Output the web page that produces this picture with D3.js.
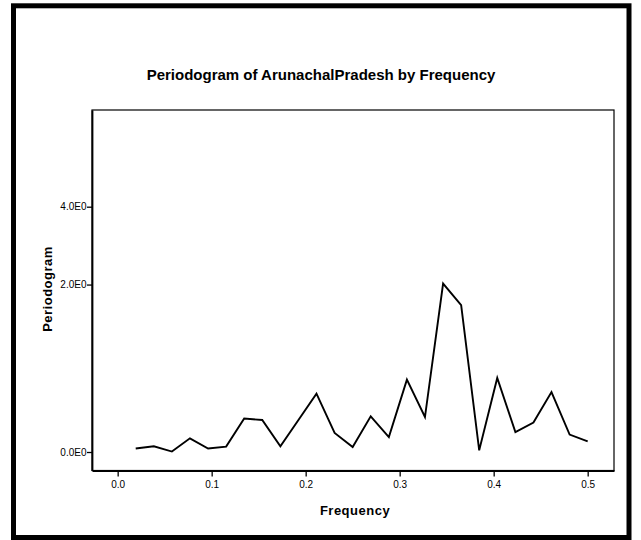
<!DOCTYPE html>
<html>
<head>
<meta charset="utf-8">
<script src="https://cdn.jsdelivr.net/npm/d3@7"></script>
<style>
	body { margin: 0; background: #ffffff; }
	text { font-family: "Liberation Sans", Arial, sans-serif; }
</style>
</head>
<body>
<svg id="chart" width="641" height="540"></svg>
<script>
// periodogram values
var frequency = [0.0192, 0.0385, 0.0577, 0.0769, 0.0962, 0.1154, 0.1346, 0.1538, 0.1731,
	0.1923, 0.2115, 0.2308, 0.2500, 0.2692, 0.2885, 0.3077, 0.3269, 0.3462, 0.3654,
	0.3846, 0.4038, 0.4231, 0.4423, 0.4615, 0.4808, 0.5000];
var periodogram = [0.023, 0.038, 0.003, 0.094, 0.023, 0.036, 0.245, 0.234, 0.038,
	0.234, 0.467, 0.133, 0.033, 0.264, 0.103, 0.608, 0.258, 2.02, 1.62,
	0.011, 0.625, 0.140, 0.213, 0.482, 0.121, 0.073];
var xTicks = [0.0, 0.1, 0.2, 0.3, 0.4, 0.5];
var yTicks = [0, 2, 4];

var svg = d3.select("#chart");

var plotL = 92, plotR = 614, plotT = 110, plotB = 470.5;

// outer frame
svg.append("rect")
	.attr("x", 13.5)
	.attr("y", 5.8)
	.attr("width", 615.5)
	.attr("height", 531.7)
	.attr("fill", "white")
	.attr("stroke", "black")
	.attr("stroke-width", 5);

svg.append("text")
	.attr("x", 321)
	.attr("y", 80)
	.attr("text-anchor", "middle")
	.attr("font-size", "15px")
	.attr("font-weight", "bold")
	.text("Periodogram of ArunachalPradesh by Frequency");

var x = d3.scaleLinear()
	.domain([-0.0273, 0.528])
	.range([plotL, plotR]);

// the y axis of the scan is log(1 + p)
var y = d3.scaleSymlog()
	.constant(1)
	.domain([-0.129, 8.43])
	.range([plotB, plotT]);

// plot box
svg.append("rect")
	.attr("x", plotL)
	.attr("y", plotT)
	.attr("width", plotR - plotL)
	.attr("height", plotB - plotT)
	.attr("fill", "none")
	.attr("stroke", "black")
	.attr("stroke-width", 1.2);

var yAxis = svg.append("g")
	.attr("transform", "translate(" + plotL + ",0)")
	.call(d3.axisLeft(y).tickValues(yTicks).tickSize(5).tickSizeOuter(0)
		.tickFormat(function(d) { return d.toFixed(1) + "E0"; }));

var xAxis = svg.append("g")
	.attr("transform", "translate(0," + plotB + ")")
	.call(d3.axisBottom(x).tickValues(xTicks).tickSize(6).tickSizeOuter(0)
		.tickFormat(d3.format(".1f")));

[xAxis, yAxis].forEach(function(g) {
	g.select(".domain").attr("stroke-width", 1.8);
	g.selectAll(".tick line").attr("stroke-width", 1.3);
	g.selectAll(".tick text")
		.attr("font-family", "\"Liberation Sans\", Arial, sans-serif")
		.attr("font-size", "10px")
		.attr("fill", "black");
});
yAxis.selectAll(".tick text").attr("x", -5.5);
xAxis.selectAll(".tick text").attr("y", 10);

var line = d3.line()
	.x(function(d, i) { return x(frequency[i]); })
	.y(function(d) { return y(d); });

svg.append("path")
	.datum(periodogram)
	.attr("d", line)
	.attr("fill", "none")
	.attr("stroke", "black")
	.attr("stroke-width", 1.9)
	.attr("stroke-linejoin", "miter");

svg.append("text")
	.attr("transform", "translate(52," + 289 + ") rotate(-90)")
	.attr("text-anchor", "middle")
	.attr("font-size", "13px")
	.attr("font-weight", "bold")
	.attr("letter-spacing", "0.5px")
	.text("Periodogram");

svg.append("text")
	.attr("x", 355)
	.attr("y", 515)
	.attr("text-anchor", "middle")
	.attr("font-size", "13px")
	.attr("font-weight", "bold")
	.attr("letter-spacing", "0.5px")
	.text("Frequency");
</script>
</body>
</html>
